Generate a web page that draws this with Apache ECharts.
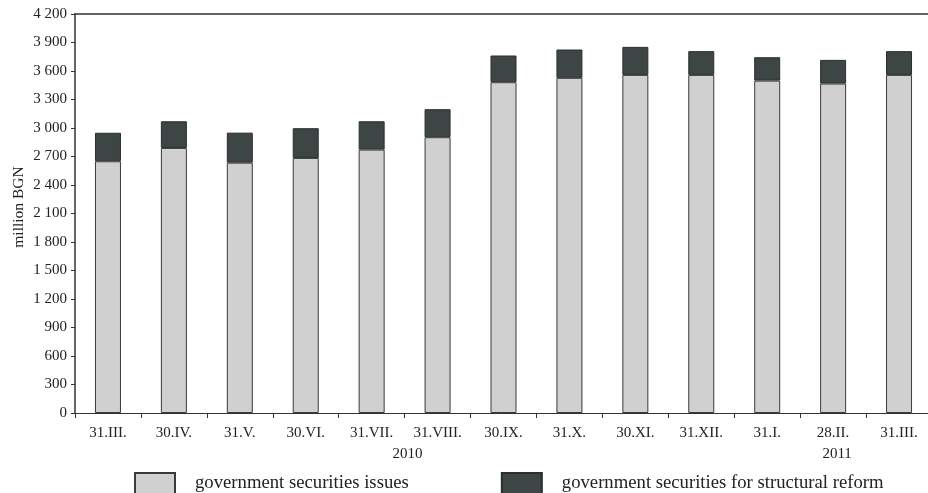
<!DOCTYPE html>
<html>
<head>
<meta charset="utf-8">
<script src="https://cdn.jsdelivr.net/npm/echarts@6/dist/echarts.min.js"></script>
<style>
  html, body { margin: 0; padding: 0; background: #fff; }
  #chart { width: 928px; height: 493px; }
</style>
</head>
<body>
<div id="chart"></div>
<script>
// Month-end dates, March 2010 – March 2011
const categories = ['31.III.', '30.IV.', '31.V.', '30.VI.', '31.VII.', '31.VIII.',
  '30.IX.', '31.X.', '30.XI.', '31.XII.', '31.I.', '28.II.', '31.III.'];

// million BGN
const securitiesIssues = [2650, 2790, 2635, 2685, 2773, 2903, 3482, 3528, 3559, 3559, 3499, 3468, 3559];
const structuralReform = [300, 281, 316, 313, 298, 295, 281, 298, 295, 250, 246, 249, 250];

const yearLabels = ['2010', '2011'];
const seriesNames = ['government securities issues', 'government securities for structural reform'];

const yTicks = { min: 0, max: 4200, interval: 300 };

const FONT = '"Liberation Serif", "DejaVu Serif", serif';
const TEXT = '#222';

const GRID = { left: 75, top: 14, width: 857, height: 399 };

const chart = echarts.init(document.getElementById('chart'), null, { renderer: 'canvas' });

const fmtThousands = v => String(v).replace(/\B(?=(\d{3})+(?!\d))/g, ' ');

chart.setOption({
  animation: false,
  backgroundColor: '#fff',
  textStyle: { fontFamily: FONT, color: TEXT },
  grid: {
    left: GRID.left, top: GRID.top, width: GRID.width, height: GRID.height,
    containLabel: false, outerBoundsMode: 'none'
  },
  legend: {
    left: 134, top: 472, padding: 0,
    itemWidth: 40, itemHeight: 21, itemGap: 92,
    icon: 'rect',
    textStyle: { fontFamily: FONT, fontSize: 18.7, color: TEXT, padding: [0, 0, 0, 15] },
    data: seriesNames
  },
  xAxis: [{
    type: 'category',
    data: categories,
    axisLine: { lineStyle: { color: '#333', width: 1 } },
    axisTick: { show: true, length: 5, lineStyle: { color: '#333' } },
    axisLabel: { fontFamily: FONT, fontSize: 15, color: TEXT, margin: 13 }
  }, {
    type: 'category',
    data: categories,
    position: 'top',
    axisLine: { lineStyle: { color: '#333', width: 1.5 } },
    axisTick: { show: false },
    axisLabel: { show: false }
  }],
  yAxis: {
    type: 'value',
    min: yTicks.min, max: yTicks.max, interval: yTicks.interval,
    name: 'million BGN',
    nameLocation: 'middle',
    nameRotate: 90,
    nameGap: 48,
    nameMoveOverlap: false,
    nameTextStyle: { fontFamily: FONT, fontSize: 15.5, color: TEXT, padding: [0, 0, 0, 13] },
    axisLine: { show: true, lineStyle: { color: '#333', width: 1.5 } },
    axisTick: { show: true, length: 4, lineStyle: { color: '#333' } },
    splitLine: { show: false },
    axisLabel: { fontFamily: FONT, fontSize: 15, color: TEXT, margin: 8, formatter: fmtThousands }
  },
  series: [{
    name: seriesNames[0],
    type: 'bar',
    stack: 'total',
    barWidth: 26,
    data: securitiesIssues,
    itemStyle: { color: '#d0d0d0', borderColor: '#3a3a3a', borderWidth: 1 }
  }, {
    name: seriesNames[1],
    type: 'bar',
    stack: 'total',
    barWidth: 26,
    data: structuralReform,
    itemStyle: { color: '#3d4644', borderColor: '#2a2f2e', borderWidth: 1 }
  }]
});

// Year captions under the date labels (category position, fractional offset)
const yearAt = [4.56, 11.08];
const band = GRID.width / categories.length;
chart.setOption({
  graphic: yearLabels.map((t, i) => {
    const x = GRID.left + (yearAt[i] + 0.5) * band;
    return {
      type: 'text', left: x - 16, top: 447,
      style: { text: t, font: '15px ' + FONT, fill: TEXT }
    };
  })
});
</script>
</body>
</html>
